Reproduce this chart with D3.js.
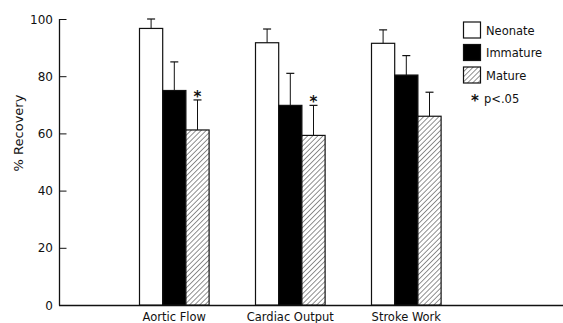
<!DOCTYPE html>
<html><head><meta charset="utf-8">
<script src="https://cdn.jsdelivr.net/npm/d3@7"></script>
<style>body{margin:0;background:#fff}svg{display:block}text{font-family:"DejaVu Sans",sans-serif;fill:#111}</style>
</head><body><svg id="c" width="563" height="323"></svg>
<script>
const categories = ["Aortic Flow", "Cardiac Output", "Stroke Work"];
const series = ["Neonate", "Immature", "Mature"];
const neonate = [96.7, 91.7, 91.5];
const immature = [75, 69.8, 80.4];
const mature = [61.2, 59.3, 66];
const neonateErr = [3.3, 4.8, 4.7];
const immatureErr = [10, 11.2, 6.8];
const matureErr = [10.5, 10.5, 8.4];
const significant = [[false,false,true],[false,false,true],[false,false,false]];
const yTicks = [0, 20, 40, 60, 80, 100];

const values = [neonate, immature, mature];
const errs = [neonateErr, immatureErr, matureErr];
const svg = d3.select("#c");
const defs = svg.append("defs");
const pat = defs.append("pattern").attr("id","hatch").attr("patternUnits","userSpaceOnUse")
  .attr("width",3.6).attr("height",3.6).attr("patternTransform","rotate(45)");
pat.append("rect").attr("width",3.6).attr("height",3.6).attr("fill","#fff");
pat.append("line").attr("x1",0).attr("y1",0).attr("x2",0).attr("y2",3.6).attr("stroke","#222").attr("stroke-width",1);
const fills = ["#fff", "#000", "url(#hatch)"];

const y = d3.scaleLinear().domain([0,100]).range([305,19]);
const x0 = d3.scaleBand().domain(categories).range([116.3,464.3]).paddingInner(0.4).paddingOuter(0.2);
const x1 = d3.scaleBand().domain(series).range([0, x0.bandwidth()]);

// y axis
const yAxis = d3.axisRight(y).tickValues(yTicks).tickSize(7).tickFormat("");
const ga = svg.append("g").attr("transform","translate(59.5,0)").call(yAxis);
ga.select(".domain").attr("stroke","#111").attr("stroke-width",1.3).attr("d","M0,19V305.5");
ga.selectAll(".tick line").attr("stroke","#111").attr("stroke-width",1);
svg.selectAll(".ylab").data(yTicks).join("text").attr("x",53).attr("y",d=>y(d)+4.5)
  .attr("text-anchor","end").attr("font-size",12).text(d=>d);
// x baseline
svg.append("line").attr("x1",59).attr("x2",563).attr("y1",305.5).attr("y2",305.5).attr("stroke","#111").attr("stroke-width",1.3);

// bars
const data = [];
categories.forEach((c,i)=>series.forEach((s,j)=>data.push({c,s,j,v:values[j][i],e:errs[j][i],sig:significant[i][j]})));
const g = svg.append("g");
g.selectAll("rect").data(data).join("rect")
  .attr("x",d=>x0(d.c)+x1(d.s)).attr("y",d=>y(d.v)).attr("width",x1.bandwidth())
  .attr("height",d=>y(0)-y(d.v)).attr("fill",d=>fills[d.j]).attr("stroke","#111").attr("stroke-width",1.2);
// error bars
const eb = g.selectAll(".eb").data(data).join("g");
eb.append("line").attr("x1",d=>x0(d.c)+x1(d.s)+x1.bandwidth()/2).attr("x2",d=>x0(d.c)+x1(d.s)+x1.bandwidth()/2)
  .attr("y1",d=>y(d.v)).attr("y2",d=>y(d.v+d.e)).attr("stroke","#111").attr("stroke-width",1);
eb.append("line").attr("x1",d=>x0(d.c)+x1(d.s)+x1.bandwidth()/2-4).attr("x2",d=>x0(d.c)+x1(d.s)+x1.bandwidth()/2+4)
  .attr("y1",d=>y(d.v+d.e)).attr("y2",d=>y(d.v+d.e)).attr("stroke","#111").attr("stroke-width",1.2);
g.selectAll(".star").data(data.filter(d=>d.sig)).join("text")
  .attr("x",d=>x0(d.c)+x1(d.s)+x1.bandwidth()/2).attr("y",d=>y(d.v+d.e)+2)
  .attr("text-anchor","middle").attr("font-size",15).attr("font-weight","bold").text("*");

// category labels
svg.selectAll(".cat").data(categories).join("text").attr("x",d=>x0(d)+x0.bandwidth()/2).attr("y",321)
  .attr("text-anchor","middle").attr("font-size",11.5).text(d=>d);
// y label
svg.append("text").attr("transform","translate(23,133) rotate(-90)").attr("text-anchor","middle")
  .attr("font-size",13).text("% Recovery");

// legend
const lg = svg.append("g");
series.forEach((s,j)=>{
  lg.append("rect").attr("x",463.5).attr("y",22+j*22.5).attr("width",17).attr("height",16)
    .attr("fill",fills[j]).attr("stroke","#111").attr("stroke-width",1.2);
  lg.append("text").attr("x",486).attr("y",34.5+j*22.5).attr("font-size",11.5).text(s);
});
lg.append("text").attr("x",475).attr("y",106).attr("text-anchor","middle").attr("font-size",15).attr("font-weight","bold").text("*");
lg.append("text").attr("x",484).attr("y",103).attr("font-size",11.5).text("p<.05");
</script></body></html>
